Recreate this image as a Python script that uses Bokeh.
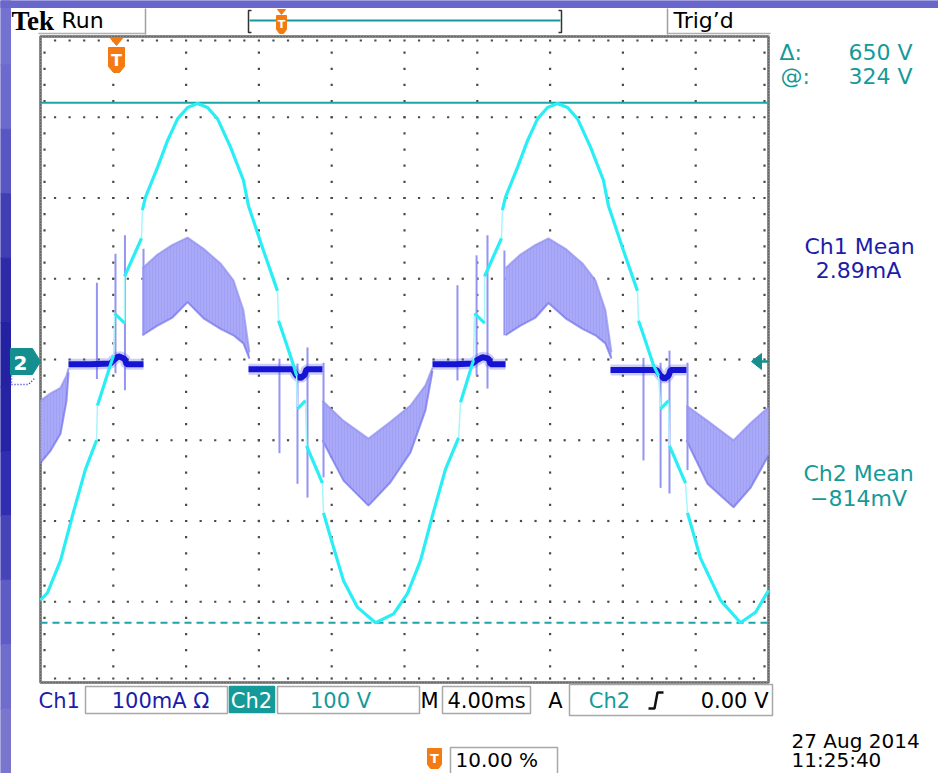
import numpy as np
from bokeh.plotting import figure
from bokeh.models import Range1d
from bokeh.core.properties import value
from bokeh.embed import file_html
from bokeh.resources import INLINE

# ---------------- data read from the screen ----------------
# time in ms (4 ms/div, 10 div); Ch2 in V (100 V/div); Ch1 in mA (100 mA/div)
ch2_t = [0.00, 0.38, 1.10, 1.76, 2.47, 3.08, 3.13, 3.74, 4.01, 4.07, 4.62, 4.62, 5.55, 5.60,
         5.77, 6.43, 6.98, 7.53, 8.08, 8.63, 9.18, 9.73, 10.44, 11.15, 11.43, 12.25, 13.02,
         13.08, 13.46, 13.90, 14.07, 14.12, 14.56, 14.62, 15.49, 15.55, 16.04, 16.65, 17.42,
         18.41, 19.40, 20.16, 20.88, 21.54, 22.25, 22.97, 23.08, 23.79, 23.85, 24.40, 24.40,
         25.33, 25.38, 25.55, 26.21, 26.76, 27.31, 27.86, 28.41, 28.96, 29.51, 30.22, 30.93,
         31.21, 32.03, 32.80, 32.86, 33.24, 33.68, 33.96, 34.07, 34.51, 34.56, 35.44, 35.55,
         36.26, 37.36, 38.46, 39.29, 40.00]
ch2_v = [-298, -289, -249, -193, -136, -100, -57, -14, 5, 57, 45, 103, 150, 185,
         201, 238, 271, 298, 312, 317, 312, 298, 263, 222, 190, 135, 85,
         48, 23, -7, -20, -61, -51, -107, -153, -190, -228, -274, -307,
         -326, -315, -290, -249, -193, -136, -97, -53, -1, 57, 45, 103,
         150, 185, 201, 238, 271, 298, 312, 317, 312, 298, 263, 222,
         190, 135, 85, 48, 23, -7, -20, -61, -51, -107, -153, -190,
         -246, -298, -326, -313, -286]

ch1_band_t = [
    [0.00, 0.55, 1.10, 1.43, 1.54],
    [5.60, 6.43, 7.25, 8.08, 8.96, 9.89, 10.60, 11.15, 11.48],
    [15.49, 16.65, 18.02, 19.23, 20.33, 21.15, 21.54],
    [25.55, 26.37, 27.20, 27.91, 28.85, 29.78, 30.49, 31.04, 31.37],
    [35.49, 36.65, 38.08, 39.01, 40.00],
]
ch1_band_hi = [
    [-51, -42, -35, -20, -11],
    [113, 130, 142, 151, 137, 119, 98, 61, 9],
    [-51, -76, -98, -77, -57, -32, -10],
    [113, 130, 142, 150, 137, 119, 98, 61, 9],
    [-57, -76, -100, -79, -59],
]
ch1_band_lo = [
    [-128, -113, -92, -51, -16],
    [30, 42, 52, 71, 51, 38, 30, 20, 1],
    [-100, -150, -181, -152, -115, -63, -14],
    [30, 42, 52, 70, 51, 38, 30, 20, 1],
    [-100, -154, -183, -159, -119],
]
ch1_flat_t = [
    [1.54, 2.75, 3.85, 4.01, 4.29, 4.62, 4.73, 5.66],
    [11.43, 12.64, 13.85, 14.07, 14.29, 14.51, 14.62, 15.49],
    [21.54, 22.80, 23.74, 23.96, 24.29, 24.62, 24.73, 25.55],
    [31.32, 32.69, 33.85, 34.07, 34.29, 34.51, 34.62, 35.49],
]
ch1_flat_i = [
    [-6, -6, -5, -1, 4, 1, -6, -6],
    [-12, -12, -12, -20, -23, -19, -12, -12],
    [-6, -6, -5, -1, 3, 1, -6, -6],
    [-13, -13, -13, -20, -24, -20, -13, -13],
]
ch1_spike_t = [3.10, 4.12, 4.64, 5.66, 13.13, 14.12, 14.67, 15.55,
               22.91, 23.96, 24.56, 25.49, 33.13, 34.07, 34.56, 35.55]
ch1_spike_hi = [95, 131, 154, 137, 1, -5, 15, -4, 92, 129, 154, 135, 2, -4, 11, -4]
ch1_spike_lo = [-24, -17, -38, 30, -116, -154, -171, -146,
                -26, -20, -36, 30, -125, -159, -166, -137]

cursor_levels = [318, -326]          # V
n_hdiv, n_vdiv = 10, 8
ms_per_div, units_per_div = 4.0, 100.0

# ---------------- screen geometry ----------------
W, H = 938, 773
GX0, GX1, GY0, GY1 = 40, 768, 36, 682
PXX = (GX1 - GX0) / (n_hdiv * ms_per_div)          # px per ms
PXY = (GY1 - GY0) / (n_vdiv * units_per_div)       # px per V
YC = (GY0 + GY1) / 2


def X(px):
    return (px - GX0) / PXX


def Y(py):
    return (YC - py) / PXY


p = figure(width=W, height=H, x_range=Range1d(X(0), X(W)), y_range=Range1d(Y(H), Y(0)),
           output_backend="svg", toolbar_location=None, min_border=0,
           x_axis_type=None, y_axis_type=None, outline_line_color=None,
           background_fill_color="white", border_fill_color="white")

TEAL = "#159a9a"
BLUE = "#1c1cab"
ORANGE = "#f47a12"
FONT = "DejaVu Sans"


def txt(px, py, s, color="#000000", size=21, align="left", baseline="middle",
        font=FONT, style="normal"):
    p.text(x=[X(px)], y=[Y(py)], text=[s], text_color=color, text_font=value(font),
           text_font_size=value(f"{size}px"), text_align=value(align),
           text_baseline=value(baseline), text_font_style=value(style))


def poly(pts, color, **kw):
    p.patch([X(a) for a, b in pts], [Y(b) for a, b in pts], fill_color=color,
            line_color=kw.get("line_color", color), line_width=kw.get("line_width", 1))


def pline(pts, color, width=1.5, dash="solid"):
    p.line([X(a) for a, b in pts], [Y(b) for a, b in pts], line_color=color,
           line_width=width, line_dash=dash)


# ---------------- slide background strips ----------------
strip_cols = ["#7472d0", "#6c6acc", "#5956c2", "#413eb4", "#2d2aa8", "#2422a3",
              "#2624a4", "#302db0", "#4644b8", "#5e5bc4", "#706ccc", "#7a76ce"]
nseg = len(strip_cols)
for k, c in enumerate(strip_cols):
    p.quad(left=X(0), right=X(10), top=Y(H * k / nseg), bottom=Y(H * (k + 1) / nseg),
           fill_color=c, line_color=c)
p.quad(left=X(0), right=X(W), top=Y(0), bottom=Y(7), fill_color="#6a67cc", line_color="#6a67cc")

# ---------------- graticule ----------------
vx, vy = [], []
for k in range(1, n_hdiv):
    for j in range(1, n_vdiv * 5):
        vx.append(k * ms_per_div)
        vy.append(-400 + j * 20)
for k in range(1, n_vdiv):
    for j in range(1, n_hdiv * 5):
        vx.append(j * ms_per_div / 5)
        vy.append(-400 + k * units_per_div)
# border ticks
for j in range(1, n_vdiv * 5):
    vx += [X(GX0 + 4), X(GX1 - 4)]
    vy += [-400 + j * 20] * 2
for j in range(1, n_hdiv * 5):
    vx += [j * ms_per_div / 5] * 2
    vy += [Y(GY0 + 4), Y(GY1 - 4)]
p.scatter(vx, vy, marker="square", size=2.2, fill_color="#4a4a4a", line_color=None)
p.quad(left=0, right=n_hdiv * ms_per_div, top=400, bottom=-400, fill_color=None,
       line_color="#8c8c8c", line_width=3)
p.quad(left=0, right=n_hdiv * ms_per_div, top=400, bottom=-400, fill_color=None,
       line_color="#444444", line_width=1, line_dash="1 2")

# cursors
p.line([0, 40], [cursor_levels[0]] * 2, line_color="#1aa6a6", line_width=2)
p.line([0, 40], [cursor_levels[1]] * 2, line_color="#1aa6a6", line_width=2, line_dash="7 5")

# ---------------- Ch1 (current) ----------------
for bt, bh, bl in zip(ch1_band_t, ch1_band_hi, ch1_band_lo):
    p.varea(x=bt, y1=bl, y2=bh, fill_color="#a9a9f8", fill_alpha=1.0,
            hatch_pattern="vertical_line", hatch_color="#8c8cf0", hatch_alpha=0.3,
            hatch_scale=3, hatch_weight=1)
    p.line(bt, bh, line_color="#9090f0", line_width=2, line_alpha=0.7)
    p.line(bt, bl, line_color="#7070ec", line_width=2, line_alpha=0.7)
p.segment(x0=ch1_spike_t, y0=ch1_spike_lo, x1=ch1_spike_t, y1=ch1_spike_hi,
          line_color="#9494f2", line_width=2)
p.multi_line(ch1_flat_t, ch1_flat_i, line_color="#5a5aea", line_width=11, line_alpha=0.3)
p.multi_line(ch1_flat_t, ch1_flat_i, line_color="#1414d2", line_width=6)

# ---------------- Ch2 (voltage) ----------------
p.line(ch2_t, ch2_v, line_color="#a8f6fa", line_width=1.5)
seg_t, seg_v = [[ch2_t[0]]], [[ch2_v[0]]]
for i in range(1, len(ch2_t)):
    if ch2_t[i] - ch2_t[i - 1] < 0.13:
        seg_t.append([ch2_t[i]])
        seg_v.append([ch2_v[i]])
    else:
        seg_t[-1].append(ch2_t[i])
        seg_v[-1].append(ch2_v[i])
seg_t2 = [a for a in seg_t if len(a) > 1]
seg_v2 = [b for a, b in zip(seg_t, seg_v) if len(a) > 1]
p.multi_line(seg_t2, seg_v2, line_color="#2aeef5", line_width=3.2)

# ---------------- markers ----------------
# trigger position marker inside graticule
poly([(110, 38), (122, 38), (116, 45)], ORANGE)
poly([(108, 47), (124, 47), (124, 66), (119, 72), (113, 72), (108, 66)], ORANGE)
txt(116, 60, "T", color="white", size=16, align="center", style="bold")
# ch2 ground marker
poly([(10, 348), (32, 348), (40, 361), (32, 374), (10, 374)], "#148e8e")
txt(20, 362, "2", color="white", size=20, align="center", style="bold")
pline([(11, 375), (11, 384), (28, 384), (35, 377)], "#2a2ad0", 1.5, "1 2")
# trigger level arrow
poly([(751, 361), (761, 353), (761, 369)], "#148e8e")
pline([(760, 361), (768, 361)], "#148e8e", 2.5)

# ---------------- top status bar ----------------
txt(11, 20, "Tek", size=27, font="Liberation Serif", style="bold")
txt(61, 20, "Run", size=22)
pline([(145, 8), (145, 34)], "#a0a0a0", 1.5)
pline([(38, 33), (145, 33)], "#b0b0b0", 1.5)
pline([(667, 8), (667, 34)], "#a0a0a0", 1.5)
pline([(667, 33), (770, 33)], "#b0b0b0", 1.5)
pline([(251, 10), (248, 10), (248, 32), (251, 32)], "#333333", 1.5)
pline([(558, 10), (561, 10), (561, 32), (558, 32)], "#333333", 1.5)
pline([(249, 20), (560, 20)], TEAL, 2)
poly([(277, 9), (285, 9), (281, 14)], ORANGE)
poly([(276, 15), (286, 15), (286, 29), (283, 33), (279, 33), (276, 29)], ORANGE)
txt(281, 24, "T", color="white", size=11, align="center", style="bold")
txt(673, 20, "Trig\u2019d", size=22)

# ---------------- right readouts ----------------
txt(779, 52, "\u0394:", color=TEAL, size=22)
txt(912, 52, "650 V", color=TEAL, size=22, align="right")
txt(780, 76, "@:", color=TEAL, size=22)
txt(912, 76, "324 V", color=TEAL, size=22, align="right")
txt(859, 246, "Ch1 Mean", color=BLUE, size=22, align="center")
txt(858, 270, "2.89mA", color=BLUE, size=22, align="center")
txt(858, 473, "Ch2 Mean", color=TEAL, size=22, align="center")
txt(858, 498, "\u2212814mV", color=TEAL, size=22, align="center")

# ---------------- bottom bar ----------------
def box(l, r, t, b, fill=None, line="#a8a8a8"):
    p.quad(left=X(l), right=X(r), top=Y(t), bottom=Y(b), fill_color=fill, line_color=line,
           line_width=1.5)


box(85, 227, 686, 713)
box(229, 274, 686, 712, fill=TEAL, line=TEAL)
box(277, 419, 686, 713)
box(442, 530, 686, 713)
box(569, 772, 684, 715)
box(450, 557, 747, 776)
txt(38, 700, "Ch1", color=BLUE, size=21)
txt(160, 700, "100mA \u03a9", color=BLUE, size=21, align="center")
txt(251, 700, "Ch2", color="white", size=21, align="center")
txt(340, 700, "100 V", color=TEAL, size=21, align="center")
txt(429, 700, "M", size=21, align="center")
txt(486, 700, "4.00ms", size=21, align="center")
txt(555, 700, "A", size=21, align="center")
txt(609, 700, "Ch2", color=TEAL, size=21, align="center")
pline([(648, 708), (654, 708), (657, 692), (663, 692)], "#111111", 2.5)
txt(768, 700, "0.00 V", size=21, align="right")
poly([(427, 748), (441, 748), (441, 764), (438, 768), (430, 768), (427, 764)], ORANGE)
txt(434, 758, "T", color="white", size=13, align="center", style="bold")
txt(455, 759, "10.00 %", size=20)
txt(791, 740, "27 Aug 2014", size=20)
txt(791, 759, "11:25:40", size=20)

open("out.html", "w").write(file_html(p, INLINE))
